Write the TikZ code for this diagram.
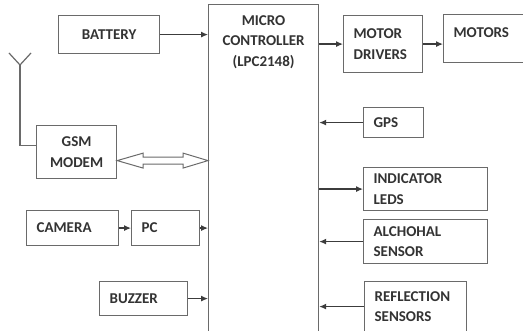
\documentclass[tikz,border=0pt]{standalone}
\usepackage{fontspec}
\setmainfont{Carlito}
\usetikzlibrary{arrows.meta, calc}

\definecolor{boxgray}{HTML}{6A6A6A}
\definecolor{linegray}{HTML}{3C3C3C}
\definecolor{txtgray}{HTML}{333333}
\newcommand{\blkfont}{\fontsize{15}{20.5}\selectfont\bfseries}

\tikzset{
  blk/.style={draw=boxgray, line width=1.2pt, text=txtgray, font=\blkfont, inner xsep=10pt, inner ysep=0pt, anchor=north west, align=left},
  link/.style={draw=linegray, line width=1.2pt, -{Latex[length=7pt,width=6pt]}},
  wire/.style={draw=boxgray, line width=1.2pt}
}

\begin{document}
\begin{tikzpicture}[x=1pt, y=-1pt]

\useasboundingbox (0, 0) rectangle (523, 331);
\fill [white] (0, 0) rectangle (523, 331);
\clip (0, 0) rectangle (523, 331);

% controller
\node [blk, minimum width=110, minimum height=345] (mc) at (208, 4) {};
\node [text=txtgray, font=\blkfont, align=center, inner sep=0pt, anchor=north] (mctitle) at ($(mc.north)+(0, 11)$) {MICRO\\CONTROLLER\\(LPC2148)};

% left side
\node [blk, text width=81, minimum height=38, align=center] (battery) at (58, 15) {BATTERY};
\node [blk, text width=60, minimum height=53, align=center] (gsm) at (36, 125) {GSM\\MODEM};
\node [blk, text width=72, minimum height=35] (camera) at (26, 210) {CAMERA};
\node [blk, text width=48, minimum height=35] (pc) at (131, 210) {PC};
\node [blk, text width=68, minimum height=34] (buzzer) at (99, 281) {BUZZER};

% right side
\node [blk, text width=59, minimum height=57] (motordrv) at (343, 15) {MOTOR\\DRIVERS};
\node [blk, text width=70, minimum height=48, text depth=12pt] (motors) at (443, 14) {MOTORS};
\node [blk, text width=40, minimum height=30] (gps) at (363, 107) {GPS};
\node [blk, text width=104, minimum height=43] (leds) at (363, 167) {INDICATOR\\LEDS};
\node [blk, text width=104, minimum height=44] (alcohol) at (363, 219) {ALCHOHAL\\SENSOR};
\node [blk, text width=82, minimum height=50] (reflect) at (364, 281) {REFLECTION\\SENSORS};

% antenna
\coordinate (antl) at (9, 53);
\coordinate (antr) at (31, 53);
\coordinate (ant) at (20, 65);
\draw [wire] (antl) -- (ant) -- (antr);
\draw [wire] (ant) |- ($(gsm.west)+(0, -6.5)$);

% gsm <-> controller
\coordinate (dl) at ($(gsm.east)+(0, 8.5)$);
\coordinate (dr) at (dl -| mc.west);
\draw [wire, line width=1pt] (dl) -- ++(26, -7.5) -- ++(0, 4) -- ($(dr)+(-25, -3.5)$) -- ++(0, -4) -- (dr)
  -- ++(-25, 7.5) -- ++(0, -4) -- ($(dl)+(26, 3.5)$) -- ++(0, 4) -- cycle;

\draw [link] (battery) -- (battery -| mc.west);
\draw [link] (camera) -- (pc);
\draw [link] (pc) -- (pc -| mc.west);
\draw [link] (buzzer) -- (buzzer -| mc.west);

\draw [link] (motordrv -| mc.east) -- (motordrv);
\draw [link] (motordrv) -- (motordrv -| motors.west);
\draw [link] (gps) -- (gps -| mc.east);
\draw [link] (leds -| mc.east) -- (leds);
\draw [link] (alcohol) -- (alcohol -| mc.east);
\draw [link] (reflect) -- (reflect -| mc.east);

\end{tikzpicture}
\end{document}
